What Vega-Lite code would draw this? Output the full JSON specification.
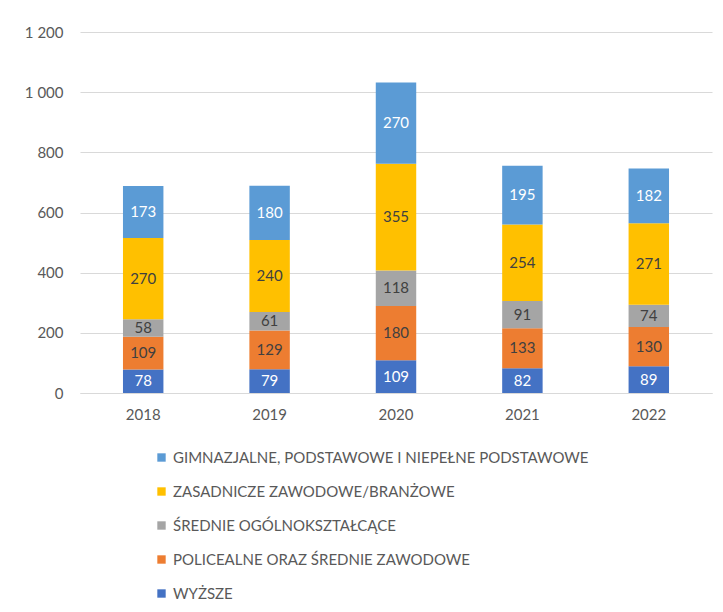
{
  "$schema": "https://vega.github.io/schema/vega-lite/v6.json",
  "width": 632,
  "height": 361,
  "autosize": {"type": "none"},
  "padding": {"left": 80, "top": 32, "right": 11, "bottom": 219},
  "background": "white",
  "config": {
    "font": "Lato",
    "view": {"stroke": null},
    "axis": {"labelFont": "Lato", "labelFontSize": 15, "labelColor": "#595959"},
    "legend": {"labelFont": "Lato", "labelFontSize": 15, "labelColor": "#595959"}
  },
  "data": {
    "values": [
      {"rok": "2018", "cat": "WYŻSZE", "v": 78},
      {"rok": "2018", "cat": "POLICEALNE ORAZ ŚREDNIE ZAWODOWE", "v": 109},
      {"rok": "2018", "cat": "ŚREDNIE OGÓLNOKSZTAŁCĄCE", "v": 58},
      {"rok": "2018", "cat": "ZASADNICZE ZAWODOWE/BRANŻOWE", "v": 270},
      {"rok": "2018", "cat": "GIMNAZJALNE, PODSTAWOWE I NIEPEŁNE PODSTAWOWE", "v": 173},
      {"rok": "2019", "cat": "WYŻSZE", "v": 79},
      {"rok": "2019", "cat": "POLICEALNE ORAZ ŚREDNIE ZAWODOWE", "v": 129},
      {"rok": "2019", "cat": "ŚREDNIE OGÓLNOKSZTAŁCĄCE", "v": 61},
      {"rok": "2019", "cat": "ZASADNICZE ZAWODOWE/BRANŻOWE", "v": 240},
      {"rok": "2019", "cat": "GIMNAZJALNE, PODSTAWOWE I NIEPEŁNE PODSTAWOWE", "v": 180},
      {"rok": "2020", "cat": "WYŻSZE", "v": 109},
      {"rok": "2020", "cat": "POLICEALNE ORAZ ŚREDNIE ZAWODOWE", "v": 180},
      {"rok": "2020", "cat": "ŚREDNIE OGÓLNOKSZTAŁCĄCE", "v": 118},
      {"rok": "2020", "cat": "ZASADNICZE ZAWODOWE/BRANŻOWE", "v": 355},
      {"rok": "2020", "cat": "GIMNAZJALNE, PODSTAWOWE I NIEPEŁNE PODSTAWOWE", "v": 270},
      {"rok": "2021", "cat": "WYŻSZE", "v": 82},
      {"rok": "2021", "cat": "POLICEALNE ORAZ ŚREDNIE ZAWODOWE", "v": 133},
      {"rok": "2021", "cat": "ŚREDNIE OGÓLNOKSZTAŁCĄCE", "v": 91},
      {"rok": "2021", "cat": "ZASADNICZE ZAWODOWE/BRANŻOWE", "v": 254},
      {"rok": "2021", "cat": "GIMNAZJALNE, PODSTAWOWE I NIEPEŁNE PODSTAWOWE", "v": 195},
      {"rok": "2022", "cat": "WYŻSZE", "v": 89},
      {"rok": "2022", "cat": "POLICEALNE ORAZ ŚREDNIE ZAWODOWE", "v": 130},
      {"rok": "2022", "cat": "ŚREDNIE OGÓLNOKSZTAŁCĄCE", "v": 74},
      {"rok": "2022", "cat": "ZASADNICZE ZAWODOWE/BRANŻOWE", "v": 271},
      {"rok": "2022", "cat": "GIMNAZJALNE, PODSTAWOWE I NIEPEŁNE PODSTAWOWE", "v": 182}
    ]
  },
  "transform": [
    {"calculate": "indexof(['WYŻSZE','POLICEALNE ORAZ ŚREDNIE ZAWODOWE','ŚREDNIE OGÓLNOKSZTAŁCĄCE','ZASADNICZE ZAWODOWE/BRANŻOWE','GIMNAZJALNE, PODSTAWOWE I NIEPEŁNE PODSTAWOWE'], datum.cat)", "as": "ord"}
  ],
  "encoding": {
    "x": {
      "field": "rok", "type": "nominal", "title": null,
      "scale": {"paddingInner": 0.68, "paddingOuter": 0.34},
      "axis": {"labelAngle": 0, "ticks": false, "domainColor": "#d9d9d9", "labelPadding": 14, "grid": false}
    },
    "y": {
      "field": "v", "type": "quantitative", "stack": "zero", "title": null,
      "scale": {"domain": [0, 1200]},
      "axis": {"values": [0, 200, 400, 600, 800, 1000, 1200], "domain": false, "ticks": false, "gridColor": "#d9d9d9", "labelPadding": 17, "labelExpr": "replace(format(datum.value, ','), ',', ' ')"}
    },
    "order": {"field": "ord", "type": "quantitative"}
  },
  "layer": [
    {
      "mark": {"type": "bar"},
      "encoding": {
        "color": {
          "field": "cat", "type": "nominal",
          "scale": {
            "domain": ["GIMNAZJALNE, PODSTAWOWE I NIEPEŁNE PODSTAWOWE", "ZASADNICZE ZAWODOWE/BRANŻOWE", "ŚREDNIE OGÓLNOKSZTAŁCĄCE", "POLICEALNE ORAZ ŚREDNIE ZAWODOWE", "WYŻSZE"],
            "range": ["#5B9BD5", "#FFC000", "#A5A5A5", "#ED7D31", "#4472C4"]
          },
          "legend": {
            "title": null, "orient": "none", "legendX": 74, "legendY": 418,
            "direction": "vertical", "symbolType": "square", "symbolSize": 70,
            "symbolStrokeWidth": 0, "rowPadding": 18, "padding": 0, "labelOffset": 4,
            "labelLimit": 0
          }
        }
      }
    },
    {
      "mark": {"type": "text", "fontSize": 15, "font": "Lato", "baseline": "middle"},
      "encoding": {
        "y": {"field": "v", "type": "quantitative", "stack": "zero", "bandPosition": 0.5},
        "detail": {"field": "cat"},
        "text": {"field": "v", "type": "quantitative"},
        "color": {
          "condition": {"test": "datum.cat === 'WYŻSZE' || datum.cat === 'GIMNAZJALNE, PODSTAWOWE I NIEPEŁNE PODSTAWOWE'", "value": "#ffffff"},
          "value": "#404040"
        }
      }
    }
  ]
}
